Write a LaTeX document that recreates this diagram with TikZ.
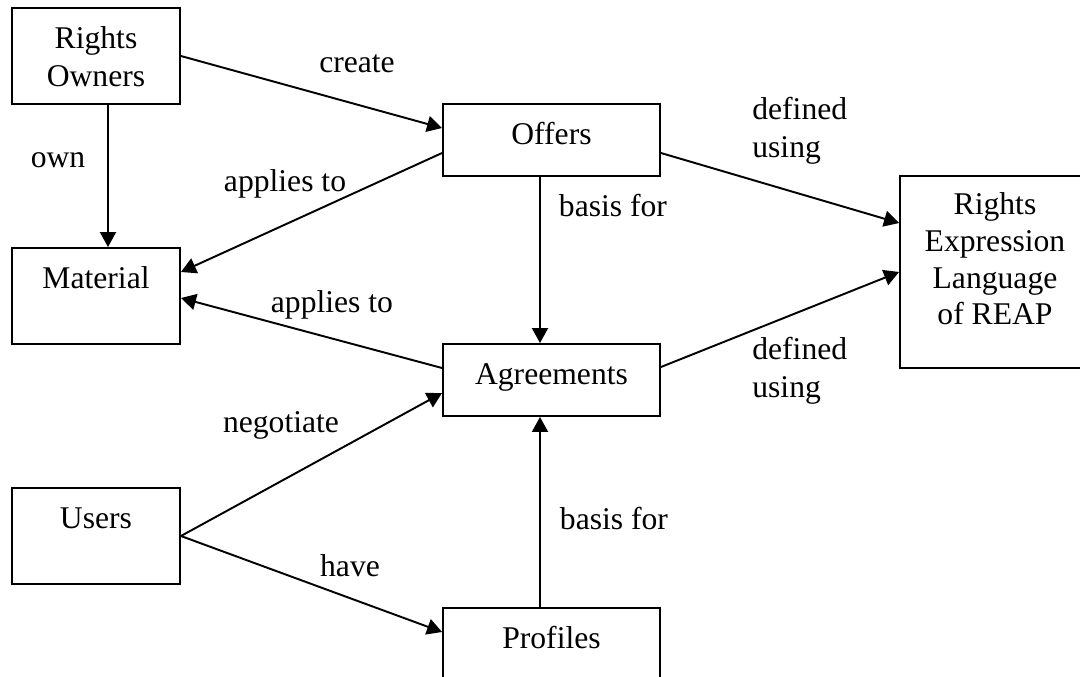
\documentclass[tikz,border=0pt]{standalone}
\usepackage{fontspec}
\setmainfont{Liberation Serif}
\usetikzlibrary{arrows.meta}
\begin{document}
\begin{tikzpicture}[x=0.02cm,y=-0.02cm]
      \useasboundingbox(0,0) rectangle (1080,677);
      \tikzset{B/.style = {shape=rectangle, draw, line width=1.1pt, inner sep=0pt, align=center, text height=0.8cm, font=\fontsize{18}{21.5}\selectfont}}
      \tikzset{E/.style = {draw, line width=1.1pt, -{Triangle[length=0.3cm,width=0.32cm]}}}
      \tikzset{T/.style = {anchor=base, inner sep=0pt, font=\fontsize{18}{21.5}\selectfont}}
      \node[B,minimum width=3.36cm,text height=1.56cm,text depth=0.36cm](ro) at (96,56) {Rights\\Owners};
      \node[B,minimum width=3.36cm,text depth=1.12cm](mat) at (96,296) {Material};
      \node[B,minimum width=3.36cm,text depth=1.12cm](usr) at (96,536) {Users};
      \node[B,minimum width=4.34cm,text depth=0.64cm](off) at (551.5,140) {Offers};
      \node[B,minimum width=4.34cm,text depth=0.64cm](agr) at (551.5,380) {Agreements};
      \node[B,minimum width=4.34cm,text depth=0.64cm](pro) at (551.5,644) {Profiles};
      \node[B,minimum width=3.8cm,text height=2.98cm,text depth=0.86cm,font=\fontsize{18}{21}\selectfont](rel) at (995,272) {Rights\\Expression\\Language\\of REAP};
      \node[T](lown) at (58,167) {own};
      \node[T](lcreate) at (357,72) {create};
      \node[T](lapp1) at (285,191) {applies to};
      \node[T](lapp2) at (332,312) {applies to};
      \node[T](lbas1) at (613,216) {basis for};
      \node[T,anchor=base west,align=left](ldef1) at (752,157) {defined\\using};
      \node[T,anchor=base west,align=left](ldef2) at (752,397) {defined\\using};
      \node[T](lneg) at (281,432) {negotiate};
      \node[T](lhave) at (350,576) {have};
      \node[T](lbas2) at (614,529) {basis for};
      \draw[E]([xshift=0.24cm]ro.south) to ([xshift=0.24cm]mat.north);
      \draw[E](ro.east) to ([yshift=0.24cm]off.west);
      \draw[E]([yshift=-0.26cm]off.west) to ([yshift=0.48cm]mat.east);
      \draw[E]([yshift=0.24cm]agr.west) to ([yshift=-0.04cm]mat.east);
      \draw[E]([xshift=-0.23cm]off.south) to ([xshift=-0.23cm]agr.north);
      \draw[E]([yshift=-0.26cm]off.east) to ([yshift=0.98cm]rel.west);
      \draw[E]([yshift=0.26cm]agr.east) to (rel.west);
      \draw[E](usr.east) to ([yshift=-0.26cm]agr.west);
      \draw[E](usr.east) to ([yshift=0.24cm]pro.west);
      \draw[E]([xshift=-0.23cm]pro.north) to ([xshift=-0.23cm]agr.south);
    \end{tikzpicture}
\end{document}
